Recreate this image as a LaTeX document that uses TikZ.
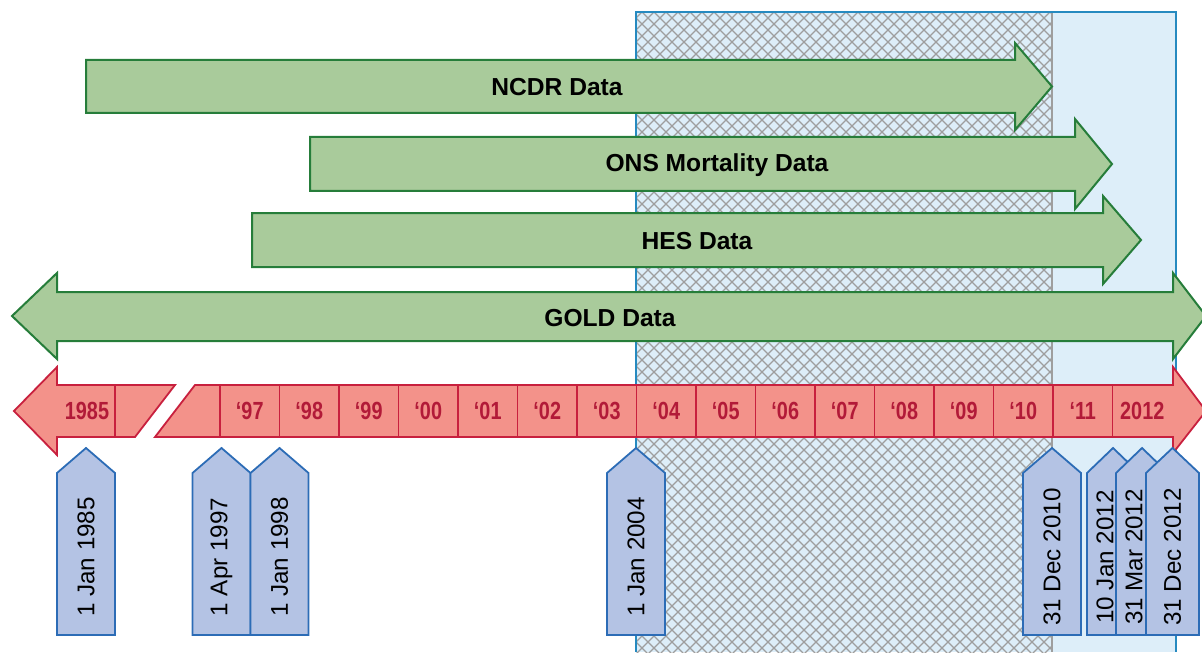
\documentclass[tikz,border=0pt]{standalone}
\usepackage{fontspec}
\setmainfont{Liberation Sans}
\newfontfamily\narrowfont[FakeStretch=0.8]{Liberation Sans}
\usetikzlibrary{calc}
\definecolor{arrowgreen}{RGB}{169,203,155}
\definecolor{arrowgreenline}{RGB}{38,125,58}
\definecolor{yearred}{RGB}{243,146,138}
\definecolor{yearredline}{RGB}{200,32,62}
\definecolor{yeartext}{RGB}{178,26,56}
\definecolor{markblue}{RGB}{180,195,228}
\definecolor{markblueline}{RGB}{44,108,182}
\definecolor{zoneblue}{RGB}{221,238,249}
\definecolor{zoneline}{RGB}{38,138,192}
\definecolor{hatchgray}{RGB}{158,158,158}
\tikzstyle{dataarrow} = [draw=arrowgreenline, fill=arrowgreen, line width=1pt]
\tikzstyle{datalabel} = [font=\fontsize{12.3}{14}\selectfont\bfseries]
\tikzstyle{yearband} = [draw=yearredline, fill=yearred, line width=0.9pt]
\tikzstyle{yearline} = [draw=yearredline, line width=0.9pt]
\tikzstyle{yearlabel} = [text=yeartext, font=\narrowfont\fontsize{12.4}{13}\selectfont\bfseries]
\tikzstyle{datemark} = [draw=markblueline, fill=markblue, line width=0.9pt]
\tikzstyle{datelabel} = [rotate=90, font=\fontsize{12.1}{14}\selectfont]
\tikzstyle{hatch} = [draw=hatchgray, line width=0.65pt]

\begin{document}
\begin{tikzpicture}[x=0.5pt, y=-0.5pt]
      \pgfmathsetmacro{\cw}{59.5}
      \clip (0,0) rectangle (1202,652);
      % study window
      \fill [zoneblue] (636,12) rectangle (1176,652);
      \begin{scope}
        \clip (636,12) rectangle (1052,652);
        \foreach \k in {0,...,92} {
          \path [hatch] ({-30+12*\k},0) -- ++(700,700);
          \path [hatch] ({630+12*\k},0) -- ++(-700,700);
        }
      \end{scope}
      \draw [hatchgray, line width=0.6pt] (1052,12) -- (1052,652);
      \draw [zoneline, line width=1pt] (636,652) -- (636,12) -- (1176,12) -- (1176,652);
      % data sources
      \path [dataarrow] (86,60) -- (1015,60) -- (1015,43) -- (1052,86.5) -- (1015,130) -- (1015,113) -- (86,113) -- cycle;
      \path [dataarrow] (310,137) -- (1075,137) -- (1075,119) -- (1112,164) -- (1075,209) -- (1075,191) -- (310,191) -- cycle;
      \path [dataarrow] (252,213) -- (1103,213) -- (1103,196) -- (1141,240) -- (1103,284) -- (1103,267) -- (252,267) -- cycle;
      \path [dataarrow] (12,316) -- (57,273) -- (57,292) -- (1173,292) -- (1173,273) -- (1206,316) -- (1173,359) -- (1173,341) -- (57,341) -- (57,359) -- cycle;
      \node [datalabel] at (557,87) (ncdr) {NCDR Data};
      \node [datalabel] at (717,165) (ons) {ONS Mortality Data};
      \node [datalabel] at (697,241) (hes) {HES Data};
      \node [datalabel] at (610,318) (gold) {GOLD Data};
      % time line
      \path [yearband] (14,411) -- (57,367) -- (57,385) -- (175,385) -- (135,437) -- (57,437) -- (57,455) -- cycle;
      \path [yearband] (195,385) -- (1173,385) -- (1173,367) -- (1206,411) -- (1173,453) -- (1173,437) -- (155,437) -- cycle;
      \path [yearline] (115,385) -- (115,437);
      \node [yearlabel] at (87,411) (y1985) {1985};
      \foreach \yr [count=\i from 0] in {‘97,‘98,‘99,‘00,‘01,‘02,‘03,‘04,‘05,‘06,‘07,‘08,‘09,‘10,‘11,2012} {
        \path [yearline] ({220+\cw*\i},385) -- ({220+\cw*\i},437);
        \node [yearlabel] at ({220+\cw*\i+\cw/2},411) (yr\i) {\yr};
      }
      % key dates
      \foreach \cx/\hw/\sh/\dt [count=\i] in {86/29/0/1 Jan 1985, 221.5/29/0/1 Apr 1997, 279.5/29/0/1 Jan 1998,
                                              636/29/0/1 Jan 2004, 1052/29/0/31 Dec 2010, 1113/26/-8/10 Jan 2012,
                                              1142/26/-8/31 Mar 2012, 1172.5/26.5/0/31 Dec 2012} {
        \path [datemark] ({\cx-\hw},635) -- ({\cx-\hw},473) -- (\cx,448) -- ({\cx+\hw},473) -- ({\cx+\hw},635) -- cycle;
        \node [datelabel] at ({\cx+\sh},557) (date\i) {\dt};
      }
    \end{tikzpicture}
\end{document}
